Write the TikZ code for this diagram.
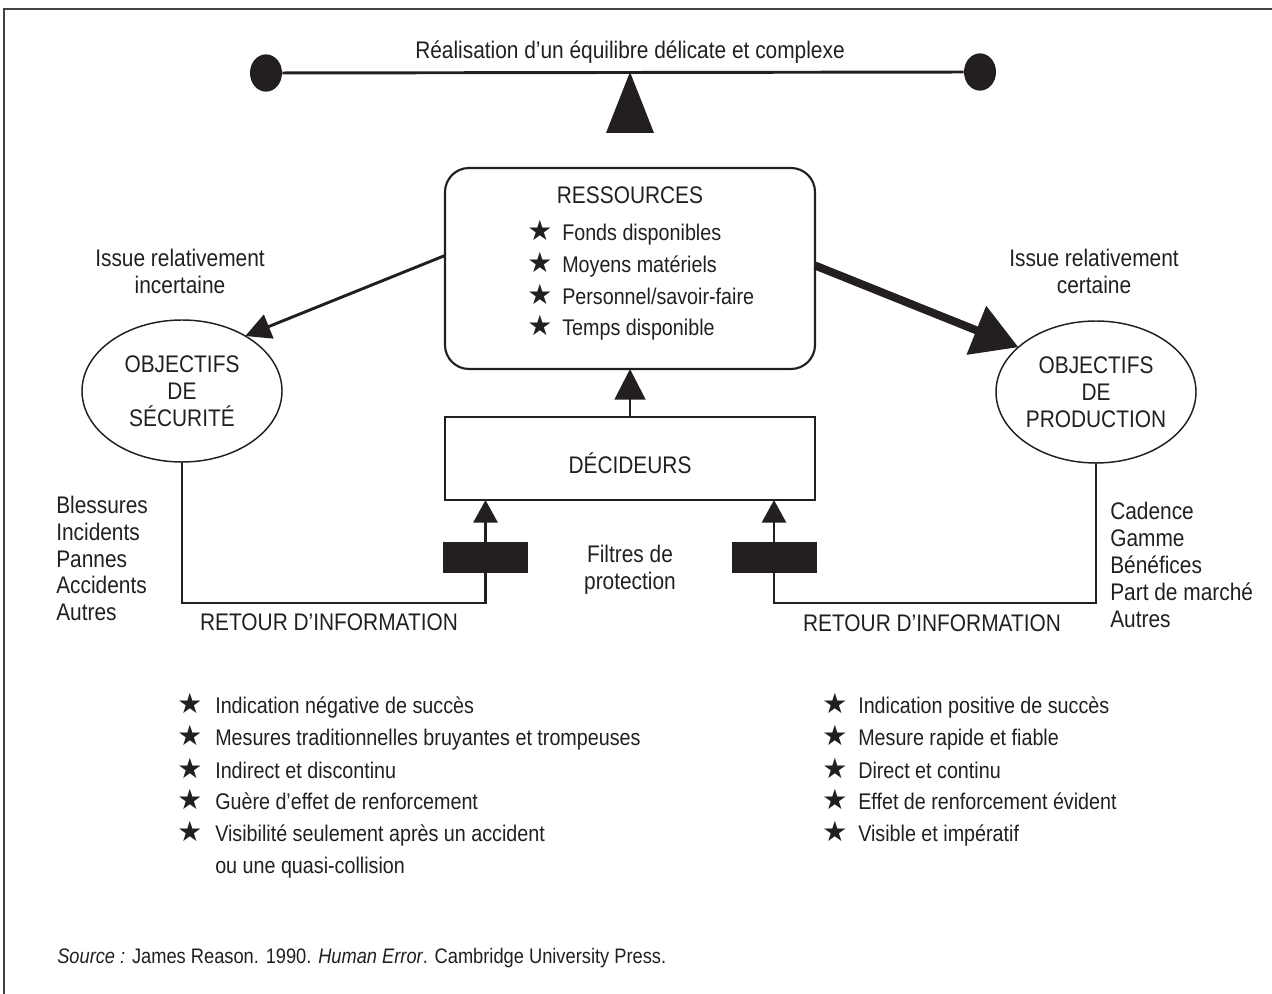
\documentclass[tikz,border=0pt]{standalone}
\usepackage{fontspec}
\setmainfont{Liberation Sans}[FakeStretch=0.87]
\newfontfamily\symfont{DejaVu Sans}
\usetikzlibrary{arrows.meta,shapes.geometric,calc}
\definecolor{ink}{HTML}{231F20}
\newcommand\starsym{{\symfont\fontsize{21}{21}\selectfont\char"2605}}
\tikzset{
  txt/.style={font=\fontsize{18}{20.25}\selectfont, text=ink, inner sep=0pt, align=center},
  itm/.style={font=\fontsize{17}{20}\selectfont, text=ink, inner sep=0pt, align=left},
  lst/.style={font=\fontsize{18}{20.1}\selectfont, text=ink, inner sep=0pt, align=left},
  boxshape/.style={draw=ink, line width=1.6pt, minimum width=277.5pt, inner sep=0pt, outer sep=0pt},
  oval/.style={ellipse, draw=ink, line width=1.1pt, minimum width=150pt, minimum height=106.5pt, inner sep=0pt, outer sep=0pt, font=\fontsize{18}{20.25}\selectfont, text=ink, align=center},
  disk/.style={ellipse, fill=ink, minimum width=24pt, minimum height=28pt, inner sep=0pt},
  filt/.style={fill=ink, minimum width=63.75pt, minimum height=23.25pt, inner sep=0pt, outer sep=0pt},
  fb/.style={draw=ink, line width=2.2pt},
  thinarrow/.style={draw=ink, line width=2.2pt, -{Triangle[length=19pt,width=19pt]}},
  thickarrow/.style={draw=ink, line width=6pt, -{Triangle[length=34pt,width=38pt]}},
  uparrow/.style={draw=ink, line width=2.2pt, -{Triangle[length=17pt,width=18pt]}},
  bigup/.style={draw=ink, line width=2.2pt, -{Triangle[length=23pt,width=23pt]}},
}
\begin{document}
\begin{tikzpicture}[x=0.75pt,y=-0.75pt]
\useasboundingbox (0,0) rectangle (1272,994);
% frame
\draw[ink!85, line width=1.1pt] (4,994) -- (4,9) -- (1272,9);

% balance
\node[disk] (diskL) at (266,73) {};
\node[disk] (diskR) at (980,72) {};
\draw[ink, line width=2.2pt] (diskL) -- (diskR);
\coordinate (apex) at (630,72);
\fill[ink] (apex) -- (606,133) -- (654,133) -- cycle;
\node[txt] (title) at (630,52) {Réalisation d’un équilibre délicate et complexe};

% ressources
\node[boxshape, rounded corners=18pt, minimum height=150.75pt] (ress) at (630,268.5) {};
\node[txt] (resst) at (630,195) {RESSOURCES};
\foreach \i/\y/\t in {1/233/{Fonds disponibles}, 2/265/{Moyens matériels}, 3/297/{Personnel/savoir-faire}, 4/328/{Temps disponible}}{
  \node[itm, anchor=base] (rs\i) at (540,\y+8) {\starsym};
  \node[itm, anchor=base west] (rt\i) at (562,\y+8) {\t};
}

% decideurs
\node[boxshape, minimum height=62.25pt] (dec) at (630,458.5) {};
\node[txt] (dect) at (630,463) {DÉCIDEURS};
\draw[bigup] (dec.north) -- (ress.south);

% objectives
\node[oval] (secu) at (182,391) {OBJECTIFS\\DE\\SÉCURITÉ};
\node[oval] (prod) at (1096,392) {OBJECTIFS\\DE\\PRODUCTION};
\draw[thinarrow] ($(ress.west)+(0,-13)$) -- (secu.41);
\draw[thickarrow] ($(ress.east)+(0,-3)$) -- (prod.150);

\node[txt] (issL) at (180,271) {Issue relativement\\incertaine};
\node[txt] (issR) at (1094,271) {Issue relativement\\certaine};

% filters and feedback
\node[filt] (filtL) at (485.5,557.5) {};
\node[filt] (filtR) at (774,557.5) {};
\coordinate (cL) at (485.5,603);
\coordinate (cR) at (774,603);
\draw[fb] (secu.south) |- (cL) -- (filtL.south);
\draw[fb] (prod.south) |- (cR) -- (filtR.south);
\draw[uparrow] (filtL.north) -- (dec.south -| filtL.north);
\draw[uparrow] (filtR.north) -- (dec.south -| filtR.north);

\node[txt] (filtt) at (630,570) {Filtres de\\protection};
\node[txt] (retL) at (329,622) {RETOUR D’INFORMATION};
\node[txt] (retR) at (932,623) {RETOUR D’INFORMATION};

\node[lst, anchor=west] (secl) at (56,558.5) {Blessures\\Incidents\\Pannes\\Accidents\\Autres};
\node[lst, anchor=west] (prodl) at (1110,565) {Cadence\\Gamme\\Bénéfices\\Part de marché\\Autres};

% bottom lists
\foreach \i/\y/\t in {1/706/{Indication négative de succès}, 2/738/{Mesures traditionnelles bruyantes et trompeuses}, 3/770/{Indirect et discontinu}, 4/801/{Guère d’effet de renforcement}, 5/833/{Visibilité seulement après un accident}}{
  \node[itm, anchor=base] (ls\i) at (190,\y+8) {\starsym};
  \node[itm, anchor=base west] (lt\i) at (215,\y+8) {\t};
}
\node[itm, anchor=base west] (lt6) at (215,873) {ou une quasi-collision};
\foreach \i/\y/\t in {1/706/{Indication positive de succès}, 2/738/{Mesure rapide et fiable}, 3/770/{Direct et continu}, 4/801/{Effet de renforcement évident}, 5/833/{Visible et impératif}}{
  \node[itm, anchor=base] (rsb\i) at (835,\y+8) {\starsym};
  \node[itm, anchor=base west] (rtb\i) at (858,\y+8) {\t};
}

\node[txt, anchor=west, font=\fontsize{15.75}{18}\selectfont] (src) at (57,958) {\textit{Source :} James Reason. 1990. \textit{Human Error}. Cambridge University Press.};
\end{tikzpicture}
\end{document}
